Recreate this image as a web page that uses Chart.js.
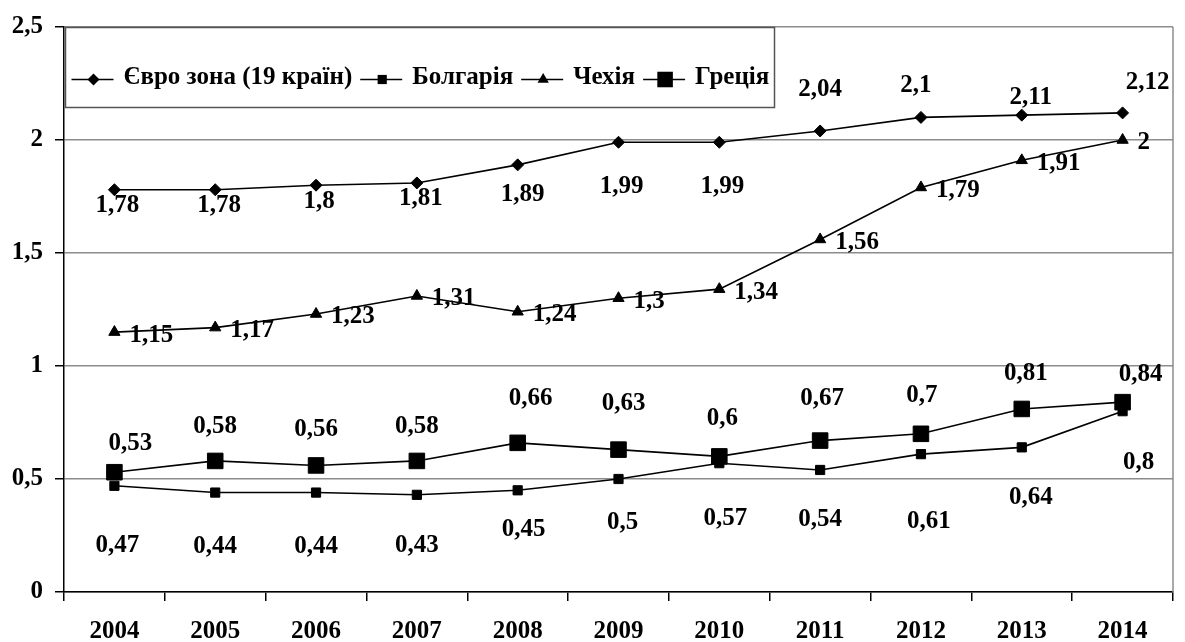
<!DOCTYPE html>
<html>
<head>
<meta charset="utf-8">
<script src="https://cdn.jsdelivr.net/npm/chart.js@4.4.1/dist/chart.umd.min.js"></script>
<style>
  html, body { margin: 0; padding: 0; background: #fff; }
  #wrap { width: 1185px; height: 642px; }
</style>
</head>
<body>
<div id="wrap"><canvas id="chart" width="1185" height="642"></canvas></div>
<script>
// Data
const years = ['2004', '2005', '2006', '2007', '2008', '2009', '2010', '2011', '2012', '2013', '2014'];
const seriesNames = ['Євро зона (19 країн)', 'Болгарія', 'Чехія', 'Греція'];
const euroZone = [1.78, 1.78, 1.8, 1.81, 1.89, 1.99, 1.99, 2.04, 2.1, 2.11, 2.12];
const bulgaria = [0.47, 0.44, 0.44, 0.43, 0.45, 0.5, 0.57, 0.54, 0.61, 0.64, 0.8];
const czechia = [1.15, 1.17, 1.23, 1.31, 1.24, 1.3, 1.34, 1.56, 1.79, 1.91, 2];
const greece = [0.53, 0.58, 0.56, 0.58, 0.66, 0.63, 0.6, 0.67, 0.7, 0.81, 0.84];
const yTicks = [0, 0.5, 1, 1.5, 2, 2.5];

// Label placement (pixel shifts from each point), per series
const labelPlace = [
  { align: 'center', dx: [3, 4, 3, 4, 5, 3, 3, 0, -5, 9, 25], dy: [16, 16, 16, 16, 30, 44, 44, -41, -32, -18, -30] },
  { align: 'center', dx: [3, 0, 0, 0, 6, 4, 6, 0, 8, 9, 16], dy: [60, 54, 54, 51, 39, 44, 55, 50, 67, 50, 51] },
  { align: 'left', dx: Array(11).fill(15), dy: Array(11).fill(3) },
  { align: 'center', dx: [16, 0, 0, 0, 13, 5, 3, 2, 1, 4, 18], dy: [-29, -34, -36, -34, -44, -46, -38, -42, -38, -35, -28] }
];

const FONT_FAMILY = '"Liberation Serif", "Times New Roman", serif';
const FONT = 'bold 25px ' + FONT_FAMILY;
const markers = [
  { style: 'rectRot', r: 6 },
  { style: 'rect', r: 6.5 },
  { style: 'triangle', r: 6.5 },
  { style: 'rect', r: 11 }
];

function drawMarker(ctx, m, x, y) {
  ctx.beginPath();
  if (m.style === 'rectRot') {
    ctx.moveTo(x - m.r, y); ctx.lineTo(x, y - m.r); ctx.lineTo(x + m.r, y); ctx.lineTo(x, y + m.r);
  } else if (m.style === 'triangle') {
    const h = m.r * 1.5, w = m.r * Math.sqrt(3) / 2;
    ctx.moveTo(x, y - m.r); ctx.lineTo(x + w, y + h - m.r); ctx.lineTo(x - w, y + h - m.r);
  } else {
    const s = m.r * Math.SQRT1_2;
    ctx.rect(x - s, y - s, s * 2, s * 2);
  }
  ctx.closePath();
  ctx.fill();
}

const decorPlugin = {
  id: 'decor',
  beforeDatasetsDraw(chart) {
    const ctx = chart.ctx, a = chart.chartArea;
    ctx.save();
    // right frame line
    ctx.strokeStyle = '#8c8c8c';
    ctx.lineWidth = 1.5;
    ctx.beginPath();
    ctx.moveTo(a.right, a.top);
    ctx.lineTo(a.right, a.bottom);
    ctx.stroke();

    // legend box
    const bx = a.left + 1.5, by = 27.5, bw = 709, bh = 80;
    ctx.fillStyle = '#fff';
    ctx.fillRect(bx, by, bw, bh);
    ctx.strokeStyle = '#555';
    ctx.lineWidth = 1.5;
    ctx.strokeRect(bx, by, bw, bh);

    ctx.font = FONT;
    ctx.textBaseline = 'middle';
    ctx.textAlign = 'left';
    ctx.fillStyle = '#000';
    ctx.strokeStyle = '#000';
    let x = bx + 6;
    const ly = by + 52;
    seriesNames.forEach((name, i) => {
      ctx.lineWidth = 1.6;
      ctx.beginPath();
      ctx.moveTo(x, ly);
      ctx.lineTo(x + 42, ly);
      ctx.stroke();
      drawMarker(ctx, markers[i], x + 22, ly);
      x += 52;
      ctx.fillText(name, x, ly - 2);
      x += ctx.measureText(name).width + 8;
    });
    ctx.restore();
  },
  afterDatasetsDraw(chart) {
    const ctx = chart.ctx;
    ctx.save();
    ctx.font = FONT;
    ctx.fillStyle = '#000';
    ctx.textBaseline = 'middle';
    chart.data.datasets.forEach((ds, i) => {
      const meta = chart.getDatasetMeta(i);
      const p = labelPlace[i];
      ctx.textAlign = p.align;
      meta.data.forEach((pt, j) => {
        const txt = String(ds.data[j]).replace('.', ',');
        ctx.fillText(txt, pt.x + p.dx[j], pt.y + p.dy[j]);
      });
    });
    ctx.restore();
  }
};

function lineSet(label, data, m, order) {
  return {
    label: label,
    data: data,
    borderColor: '#000',
    backgroundColor: '#000',
    borderWidth: 1.6,
    tension: 0,
    pointStyle: m.style,
    pointRadius: m.r,
    pointBackgroundColor: '#000',
    pointBorderColor: '#000',
    pointBorderWidth: 1,
    order: order
  };
}

const tickFont = { family: FONT_FAMILY, size: 25, weight: 'bold' };

new Chart(document.getElementById('chart').getContext('2d'), {
  type: 'line',
  data: {
    labels: years,
    datasets: [
      lineSet(seriesNames[0], euroZone, markers[0], 1),
      lineSet(seriesNames[1], bulgaria, markers[1], 1),
      lineSet(seriesNames[2], czechia, markers[2], 1),
      lineSet(seriesNames[3], greece, markers[3], 0)
    ]
  },
  options: {
    responsive: false,
    animation: false,
    devicePixelRatio: 1,
    layout: { padding: { top: 19, right: 4, left: 0, bottom: 0 } },
    plugins: {
      legend: { display: false },
      tooltip: { enabled: false }
    },
    scales: {
      x: {
        offset: true,
        grid: { offset: true, drawOnChartArea: false, tickLength: 9, tickColor: '#000', color: '#000', lineWidth: 1.5 },
        border: { color: '#000', width: 1.5 },
        ticks: { font: tickFont, color: '#000', padding: 16, maxRotation: 0, autoSkip: false },
        afterFit(s) { s.height = 50; }
      },
      y: {
        min: yTicks[0],
        max: yTicks[yTicks.length - 1],
        afterBuildTicks(s) { s.ticks = yTicks.map(v => ({ value: v })); },
        grid: { color: '#8c8c8c', lineWidth: 1.5, tickColor: '#000', tickLength: 9 },
        border: { color: '#000', width: 1.5 },
        ticks: {
          font: tickFont,
          color: '#000',
          padding: 12,
          callback: v => String(v).replace('.', ',')
        },
        afterFit(s) { s.width = 64; }
      }
    }
  },
  plugins: [decorPlugin]
});
</script>
</body>
</html>
